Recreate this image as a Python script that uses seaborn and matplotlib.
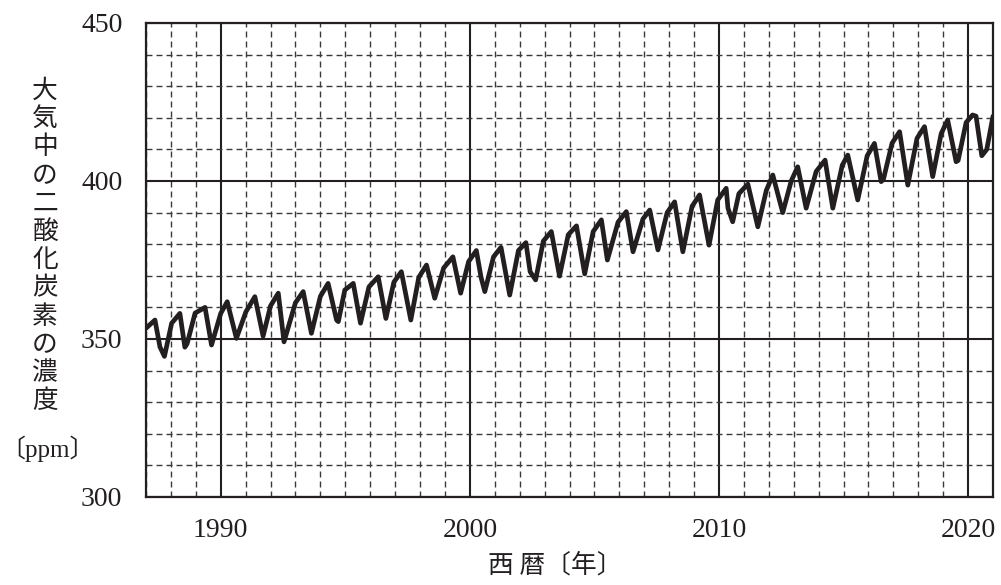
import matplotlib
matplotlib.use("Agg")
import matplotlib.pyplot as plt
from matplotlib.ticker import MultipleLocator, FixedLocator
import seaborn as sns
import pandas as pd

# ---- data ----
years = [
    1987.00, 1987.36, 1987.56, 1987.74, 1988.03, 1988.36, 1988.56, 1988.65, 1988.97,
    1989.37, 1989.63, 1990.00, 1990.26, 1990.63, 1991.01, 1991.37, 1991.70, 1992.00,
    1992.31, 1992.54, 1993.00, 1993.31, 1993.64, 1994.00, 1994.31, 1994.65, 1994.72,
    1994.98, 1995.32, 1995.61, 1995.95, 1996.32, 1996.63, 1996.95, 1997.25, 1997.63,
    1997.95, 1998.26, 1998.59, 1998.95, 1999.32, 1999.63, 1999.95, 2000.26, 2000.45,
    2000.60, 2000.95, 2001.25, 2001.60, 2001.95, 2002.25, 2002.42, 2002.64, 2002.95,
    2003.27, 2003.60, 2003.95, 2004.28, 2004.61, 2004.95, 2005.28, 2005.52, 2005.95,
    2006.28, 2006.55, 2006.95, 2007.22, 2007.55, 2007.92, 2008.22, 2008.55, 2008.92,
    2009.22, 2009.60, 2009.95, 2010.29, 2010.36, 2010.55, 2010.80, 2011.16, 2011.56,
    2011.90, 2012.16, 2012.56, 2012.90, 2013.16, 2013.50, 2013.90, 2014.26, 2014.57,
    2014.95, 2015.17, 2015.57, 2015.95, 2016.24, 2016.51, 2016.60, 2016.95, 2017.25,
    2017.58, 2017.95, 2018.25, 2018.58, 2018.92, 2019.18, 2019.52, 2019.60, 2019.92,
    2020.18, 2020.32, 2020.55, 2020.75, 2021.00,
]
co2_ppm = [
    353.4, 356.0, 347.5, 344.5, 355.0, 358.1, 347.4, 348.5, 358.2,
    360.0, 348.1, 358.1, 361.8, 350.2, 358.6, 363.4, 350.9, 360.5,
    364.5, 349.1, 361.5, 365.0, 351.8, 363.5, 367.6, 356.0, 355.5,
    365.5, 367.6, 355.0, 366.5, 369.7, 356.5, 368.0, 371.3, 356.0,
    369.5, 373.4, 362.9, 372.5, 376.0, 364.5, 374.5, 378.0, 369.5,
    365.0, 376.0, 379.0, 363.9, 378.0, 380.5, 371.3, 368.7, 381.0,
    384.0, 369.9, 383.0, 385.8, 370.6, 384.0, 387.7, 375.0, 387.0,
    390.3, 377.6, 388.0, 390.8, 378.2, 390.0, 393.4, 377.6, 392.0,
    395.6, 379.7, 394.0, 397.7, 391.4, 387.1, 396.0, 399.0, 385.5,
    397.0, 401.9, 390.0, 400.0, 404.5, 391.4, 403.0, 406.6, 391.4,
    405.0, 408.2, 394.0, 408.0, 411.9, 399.8, 400.5, 412.0, 415.6,
    398.7, 413.5, 417.2, 401.4, 415.0, 419.3, 406.1, 406.5, 418.5,
    420.9, 420.5, 408.0, 410.0, 420.5,
]
x_major = [1990, 2000, 2010, 2020]
y_major = [300, 350, 400, 450]
ylabel_chars = list("大気中の二酸化炭素の濃度")
ylabel_unit = "〔ppm〕"
xlabel_text = "西 暦〔年〕"

df = pd.DataFrame({"year": years, "co2": co2_ppm})

sns.set_style("white")
plt.rcParams["font.family"] = ["Liberation Serif", "Noto Sans CJK JP", "DejaVu Sans"]

INK = "#231f20"
fig = plt.figure(figsize=(10.01, 5.85), dpi=100)
ax = fig.add_axes([146 / 1001, 1 - 497 / 585, (993 - 146) / 1001, (497 - 23) / 585])

sns.lineplot(data=df, x="year", y="co2", ax=ax, color=INK, linewidth=3.4,
             sort=False, zorder=5)

ax.set_xlim(1987, 2021)
ax.set_ylim(300, 450)
ax.xaxis.set_major_locator(FixedLocator(x_major))
ax.yaxis.set_major_locator(FixedLocator(y_major))
ax.xaxis.set_minor_locator(MultipleLocator(1))
ax.yaxis.set_minor_locator(MultipleLocator(10))
ax.set_axisbelow(True)
ax.grid(which="minor", color="#3a3a3a", linewidth=1.0, linestyle=(0, (4.3, 2.9)), zorder=1)
ax.grid(which="major", color=INK, linewidth=1.5, linestyle="-", zorder=2)
ax.tick_params(which="both", length=0)
ax.tick_params(axis="x", pad=15, labelsize=20, labelcolor=INK)
ax.tick_params(axis="y", pad=17, labelsize=20, labelcolor=INK)
for lab in ax.get_xticklabels() + ax.get_yticklabels():
    lab.set_fontfamily(["Liberation Serif"])
for sp in ax.spines.values():
    sp.set_color(INK)
    sp.set_linewidth(1.6)
ax.set_xlabel("")
ax.set_ylabel("")

# vertical stacked y-label
W, H = 1001, 585
top_px, pitch = 91, 28.2
for i, ch in enumerate(ylabel_chars):
    fig.text(45 / W, 1 - (top_px + i * pitch) / H, ch, ha="center", va="center",
             fontsize=18.5, color=INK, family=["Noto Sans CJK JP", "DejaVu Sans"])
fig.text(47 / W, 1 - 449 / H, ylabel_unit, ha="center", va="center", fontsize=18,
         color=INK, family=["Liberation Serif", "Noto Sans CJK JP", "DejaVu Sans"])
fig.text(555 / W, 1 - 565 / H, xlabel_text, ha="center", va="center", fontsize=18.5,
         color=INK, family=["Noto Sans CJK JP", "DejaVu Sans"])

fig.savefig("out.png", dpi=100, facecolor="white")
